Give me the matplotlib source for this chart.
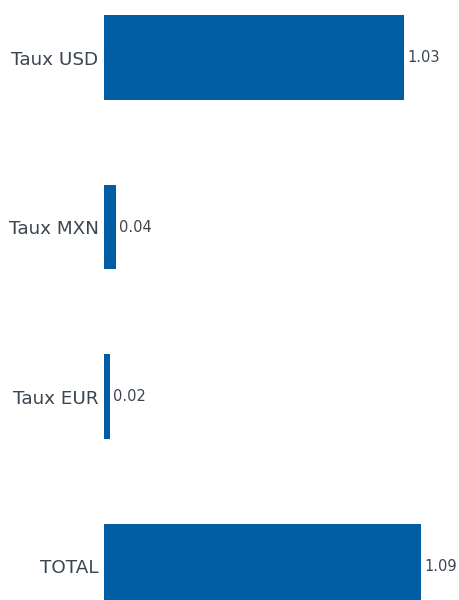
import matplotlib
matplotlib.use("Agg")
import matplotlib.pyplot as plt

categories = ["Taux USD", "Taux MXN", "Taux EUR", "TOTAL"]
values = [1.03, 0.04, 0.02, 1.09]
value_labels = ["1.03", "0.04", "0.02", "1.09"]

bar_color = "#005CA3"
text_color = "#3C4650"

fig = plt.figure(figsize=(4.59, 6.0), dpi=100)
ax = fig.add_axes([104 / 459, 0, 355 / 459, 1])
pos = list(range(len(categories)))
bars = ax.barh(pos, values, height=0.5, color=bar_color)
ax.set_xlim(0, 1.219)
ax.set_ylim(3.2, -0.34)
ax.set_yticks(pos)
ax.set_yticklabels(categories, fontsize=13.2, color=text_color, family=["DejaVu Sans"])
ax.tick_params(axis="y", length=0, pad=4)
ax.set_xticks([])
for s in ax.spines.values():
    s.set_visible(False)
ax.bar_label(bars, labels=value_labels, padding=2.5, fontsize=10.5, color=text_color)
fig.savefig("out.png", dpi=100)
